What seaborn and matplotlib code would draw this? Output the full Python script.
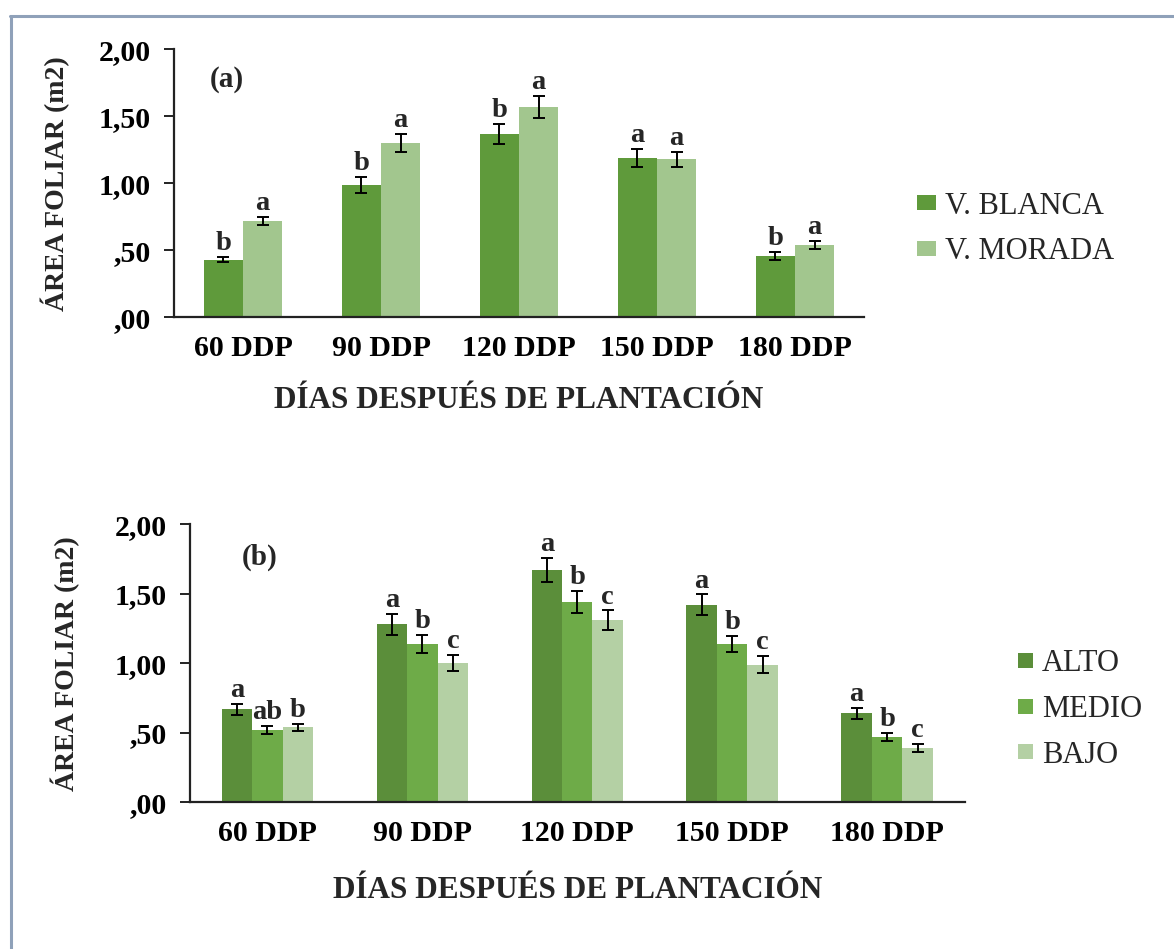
import numpy as np
import pandas as pd
import seaborn as sns
import matplotlib.pyplot as plt
from matplotlib.lines import Line2D

# --- datos ---
dias = ["60 DDP", "90 DDP", "120 DDP", "150 DDP", "180 DDP"]

# (a) variedades
variedades = ["V. BLANCA", "V. MORADA"]
area_blanca = [0.43, 0.99, 1.37, 1.19, 0.46]
area_morada = [0.72, 1.30, 1.57, 1.18, 0.54]
err_blanca = [0.02, 0.06, 0.075, 0.066, 0.029]
err_morada = [0.03, 0.07, 0.08, 0.057, 0.03]
letras_blanca = ["b", "b", "b", "a", "b"]
letras_morada = ["a", "a", "a", "a", "a"]

# (b) niveles
niveles = ["ALTO", "MEDIO", "BAJO"]
area_alto = [0.67, 1.28, 1.67, 1.42, 0.64]
area_medio = [0.52, 1.14, 1.44, 1.14, 0.47]
area_bajo = [0.54, 1.00, 1.31, 0.99, 0.39]
err_alto = [0.04, 0.075, 0.085, 0.075, 0.04]
err_medio = [0.03, 0.065, 0.08, 0.06, 0.026]
err_bajo = [0.025, 0.058, 0.07, 0.06, 0.03]
letras_alto = ["a", "a", "a", "a", "a"]
letras_medio = ["ab", "b", "b", "b", "b"]
letras_bajo = ["b", "c", "c", "c", "c"]

yticks = [0, 0.5, 1.0, 1.5, 2.0]
ytick_labels = [",00", ",50", "1,00", "1,50", "2,00"]

sns.set_style("ticks")
plt.rcParams["font.family"] = ["Liberation Serif", "DejaVu Serif"]

fig = plt.figure(figsize=(11.74, 9.49), dpi=100)
W, H = 1174, 949


def ax_px(left, top, right, bottom):
    return fig.add_axes([left / W, 1 - bottom / H, (right - left) / W, (bottom - top) / H])


def panel(ax, grupos, areas, errs, letras, colores, width, etiqueta, leg_pos, handlelen):
    df = pd.DataFrame({
        "dia": np.tile(dias, len(grupos)),
        "grupo": np.repeat(grupos, len(dias)),
        "area": np.concatenate(areas),
    })
    sns.barplot(data=df, x="dia", y="area", hue="grupo", hue_order=grupos,
                palette=colores, order=dias, width=width, saturation=1,
                errorbar=None, linewidth=0, ax=ax)

    for cont, err, let in zip(ax.containers, errs, letras):
        xs = [p.get_x() + p.get_width() / 2 for p in cont.patches]
        hs = [p.get_height() for p in cont.patches]
        ax.errorbar(xs, hs, yerr=err, fmt="none", ecolor="black",
                    elinewidth=1.4, capsize=4.5, capthick=1.4, zorder=5)
        for x, h, e, t in zip(xs, hs, err, let):
            ax.annotate(t, (x, h + e), xytext=(0, 5), textcoords="offset points",
                        ha="center", va="baseline", fontsize=20.5, fontweight="bold")

    ax.set_ylim(0, 2)
    ax.set_xlim(-0.5, 4.5)
    ax.set_yticks(yticks)
    ax.set_yticklabels(ytick_labels)
    sns.despine(ax=ax)
    for s in ["left", "bottom"]:
        ax.spines[s].set_linewidth(1.6)
        ax.spines[s].set_color("#222222")
    ax.tick_params(axis="y", length=7, width=1.4, pad=10, labelsize=21.5, colors="#222222")
    ax.tick_params(axis="x", length=0, pad=13, labelsize=21.5)
    for lab in ax.get_xticklabels() + ax.get_yticklabels():
        lab.set_fontweight("bold")
        lab.set_color("black")

    ax.set_xlabel("DÍAS DESPUÉS DE PLANTACIÓN", fontsize=22.5, fontweight="bold")
    ax.set_ylabel("ÁREA FOLIAR (m2)", fontsize=20, fontweight="bold")
    ax.text(etiqueta[1], etiqueta[2], etiqueta[0], transform=ax.transAxes,
            ha="center", va="center", fontsize=21, fontweight="bold")

    sns.move_legend(ax, "center left", bbox_to_anchor=leg_pos,
                    bbox_transform=fig.transFigure, frameon=False, title=None,
                    fontsize=22, handlelength=handlelen, handleheight=0.38,
                    handletextpad=0.3, labelspacing=0.55, borderpad=0,
                    borderaxespad=0)


# ---- (a) ----
ax1 = ax_px(174, 49.3, 864, 317.3)
panel(ax1, variedades, [area_blanca, area_morada], [err_blanca, err_morada],
      [letras_blanca, letras_morada], ["#5f9a3b", "#a2c68e"], 0.57,
      ("(a)", 0.077, 0.889), (917 / W, 1 - 229 / H), 0.62)
ax1.xaxis.set_label_coords(0.5, -0.255)
ax1.yaxis.set_label_coords(-0.15, 0.5)

# ---- (b) ----
ax2 = ax_px(190, 524.3, 964.5, 802.3)
panel(ax2, niveles, [area_alto, area_medio, area_bajo], [err_alto, err_medio, err_bajo],
      [letras_alto, letras_medio, letras_bajo], ["#5b8e3a", "#6eab48", "#b4d0a4"], 0.59,
      ("(b)", 0.090, 0.882), (1017.5 / W, 1 - 709.5 / H), 0.5)
ax2.xaxis.set_label_coords(0.5, -0.265)
ax2.yaxis.set_label_coords(-0.142, 0.5)

# marco
fig.add_artist(Line2D([10 / W, 1], [1 - 16 / H, 1 - 16 / H], color="#8fa1b9", lw=2.2,
                      transform=fig.transFigure))
fig.add_artist(Line2D([10.5 / W, 10.5 / W], [0, 1 - 16 / H], color="#8fa1b9", lw=2.2,
                      transform=fig.transFigure))

fig.savefig("out.png", dpi=100)
